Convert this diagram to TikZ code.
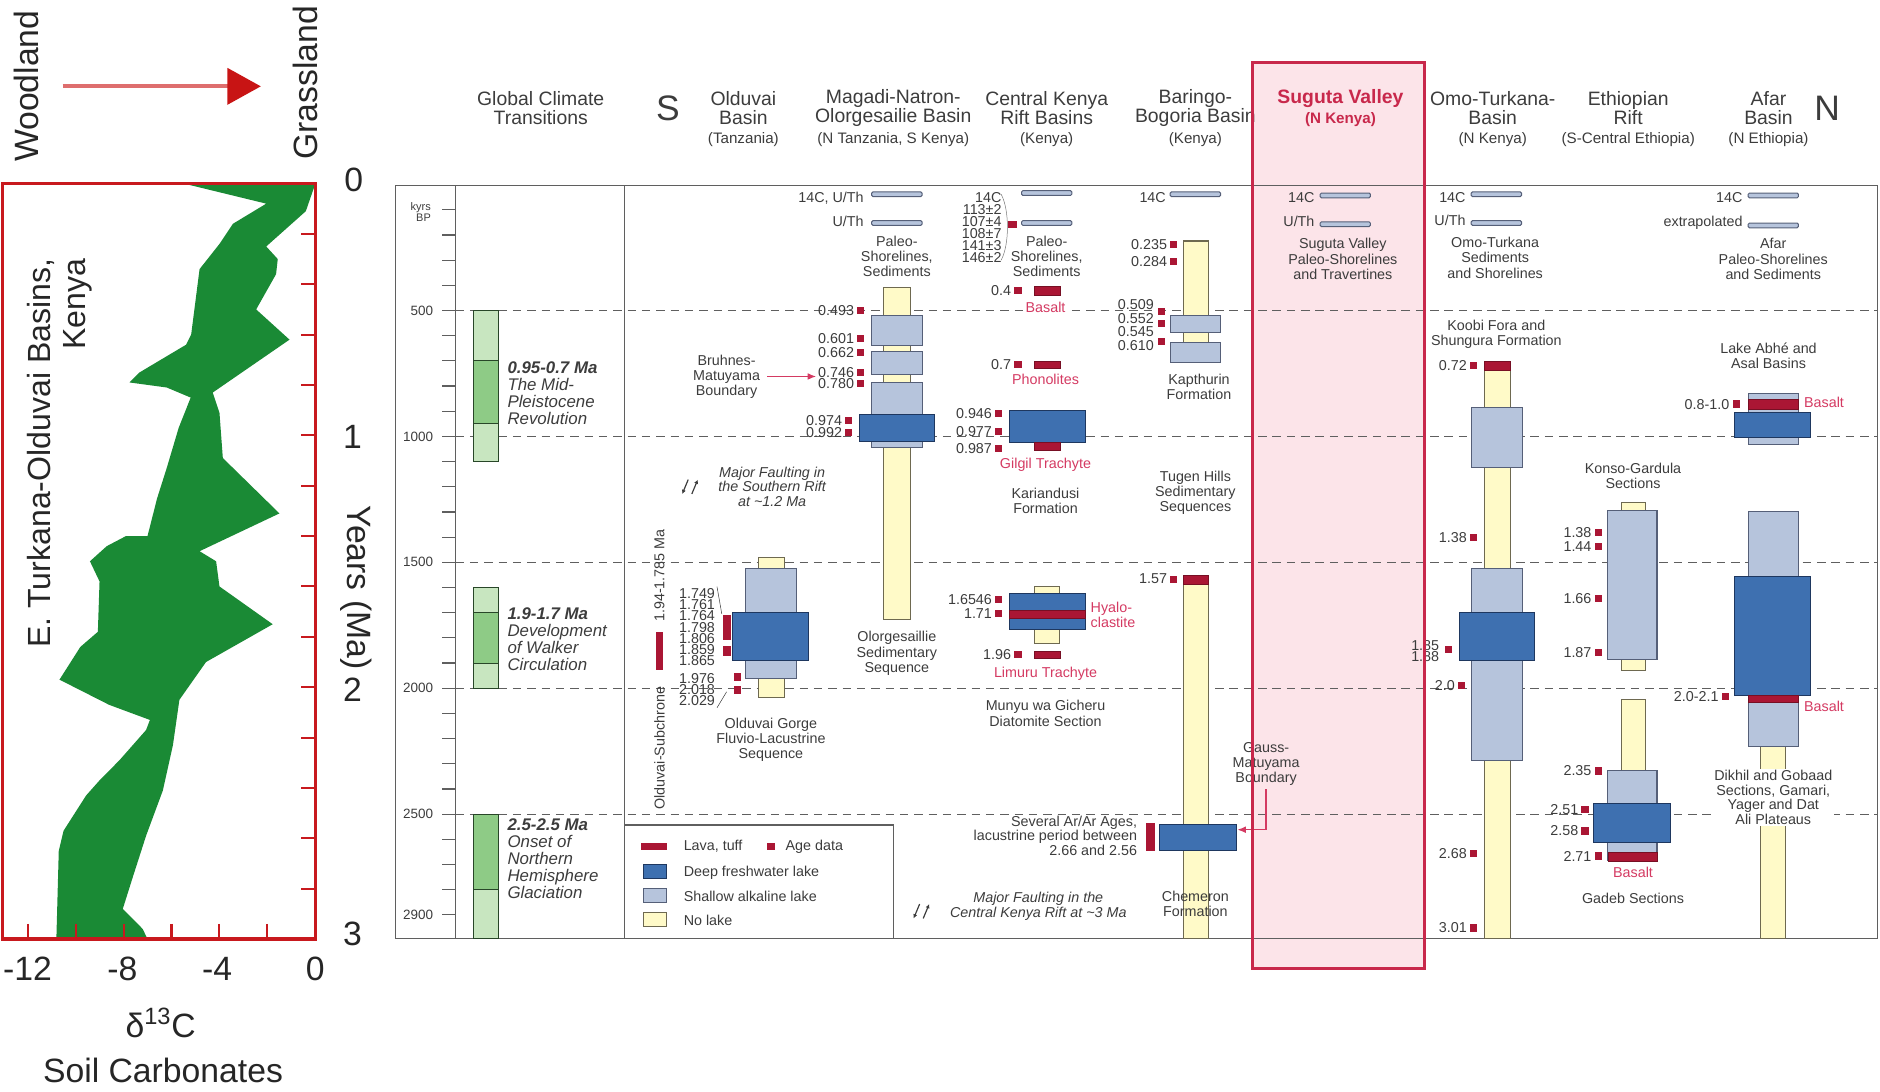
\documentclass[tikz,border=0pt]{standalone}
\usepackage{fontspec}
\setmainfont{Liberation Sans}
\usetikzlibrary{arrows.meta}

\definecolor{txtgray}{RGB}{60,60,60}
\definecolor{framegray}{RGB}{95,95,95}
\definecolor{lavared}{RGB}{170,22,52}
\definecolor{labred}{RGB}{212,58,98}
\definecolor{deepfill}{RGB}{62,112,176}
\definecolor{deepline}{RGB}{30,55,95}
\definecolor{shalfill}{RGB}{182,196,220}
\definecolor{shalline}{RGB}{85,95,120}
\definecolor{nolfill}{RGB}{255,250,200}
\definecolor{nolline}{RGB}{110,105,80}
\definecolor{climlight}{RGB}{200,230,192}
\definecolor{climdark}{RGB}{142,203,134}
\definecolor{climline}{RGB}{40,70,40}
\definecolor{sugfill}{RGB}{252,228,233}
\definecolor{sugline}{RGB}{200,40,75}
\definecolor{plotgreen}{RGB}{26,138,53}
\definecolor{plotred}{RGB}{200,25,30}
\definecolor{arrline}{RGB}{222,110,110}
\definecolor{arrhead}{RGB}{200,20,20}

\newcommand{\agesq}[4]{%
  \node[agelbl, anchor=east] (#1) at ({#2-1},#3) {#4};
  \fill[lavared] (#2,{#3-3}) rectangle ++(6,6);}
\newcommand{\lakebar}[2]{\draw[thinbar] (#1,{#2-2}) rectangle ++(42,4);}
\newcommand{\faultsym}[2]{%
  \draw[faultln] ({#1-1},{#2-6}) -- ({#1-6},{#2+6});
  \draw[faultln] ({#1+2},{#2+6}) -- ({#1+7},{#2-6});}

\begin{document}
\begin{tikzpicture}[x=0.025cm, y=-0.025cm,
    hd/.style={align=center, text=txtgray, font=\fontsize{11.5}{11.5}\selectfont, inner sep=0pt},
    hdsub/.style={text=txtgray, font=\fontsize{9}{9}\selectfont, inner sep=0pt},
    compass/.style={text=txtgray, font=\fontsize{21}{21}\selectfont, inner sep=0pt},
    lbl/.style={align=center, text=txtgray, font=\fontsize{8.5}{9}\selectfont, inner sep=1pt},
    redlbl/.style={lbl, text=labred},
    agelbl/.style={align=right, text=txtgray, font=\fontsize{8.5}{8.5}\selectfont, inner sep=1pt},
    faultlbl/.style={lbl, font=\fontsize{8.5}{8.7}\selectfont\itshape},
    faultln/.style={draw=txtgray, line width=0.7pt, -{Latex[length=2.5pt,width=2.5pt]}},
    climlbl/.style={align=left, anchor=west, text=txtgray, font=\fontsize{10}{10}\selectfont\itshape, inner sep=0pt},
    axlbl/.style={anchor=east, text=txtgray, font=\fontsize{8}{8}\selectfont, inner sep=1pt},
    legtxt/.style={anchor=west, text=txtgray, font=\fontsize{8.5}{8.5}\selectfont, inner sep=0pt},
    deep/.style={draw=deepline, fill=deepfill, line width=0.6pt},
    shallow/.style={draw=shalline, fill=shalfill, line width=0.6pt},
    nolake/.style={draw=nolline, fill=nolfill, line width=0.6pt},
    lavabox/.style={draw=lavared!70!black, fill=lavared, line width=0.4pt},
    thinbar/.style={draw=shalline, fill=shalfill, line width=0.6pt, rounded corners=0.8pt},
    clight/.style={draw=climline, fill=climlight, line width=0.6pt},
    cdark/.style={draw=climline, fill=climdark, line width=0.6pt},
    frame/.style={draw=framegray, line width=0.7pt},
    gridln/.style={draw=framegray, line width=0.6pt, dash pattern=on 5pt off 3.5pt},
    redarrow/.style={draw=labred, line width=0.8pt, -{Latex[length=5pt,width=4pt]}},
    ptick/.style={draw=plotred, line width=1.2pt},
    paneltxt/.style={text=black!85, font=\fontsize{20}{20}\selectfont, inner sep=0pt}]
\useasboundingbox (0,0) rectangle (1568,910);

% soil carbonate panel
\begin{scope}[xshift=6.575cm, yshift=-3.825cm, x=0.5cm, y=-5.25cm]
  \fill[plotgreen] (0,0) -- (-0.4,0.11) -- (-2.05,0.25) -- (-1.57,0.30) -- (-1.64,0.36)
    -- (-2.47,0.50) -- (-1.08,0.62) -- (-4.28,0.83) -- (-4.0,0.91) -- (-3.86,1.09)
    -- (-1.5,1.31) -- (-4.83,1.46) -- (-4.14,1.50) -- (-4.0,1.60) -- (-1.78,1.75)
    -- (-4.56,1.90) -- (-5.67,2.05) -- (-5.94,2.23) -- (-6.36,2.41) -- (-7.06,2.59)
    -- (-7.6,2.75) -- (-8.03,2.88) -- (-7.2,2.96) -- (-7.0,3.0)
    -- (-10.8,3.0) -- (-10.7,2.65) -- (-10.5,2.57) -- (-9.56,2.43) -- (-9.0,2.37)
    -- (-8.17,2.29) -- (-7.06,2.17) -- (-6.9,2.13) -- (-8.6,2.07) -- (-10.67,1.97)
    -- (-9.8,1.84) -- (-9.07,1.78) -- (-9.0,1.58) -- (-9.4,1.50) -- (-8.7,1.44)
    -- (-7.9,1.40) -- (-7.0,1.40) -- (-6.6,1.25) -- (-6.2,1.13) -- (-5.7,0.97)
    -- (-5.2,0.85) -- (-6.2,0.81) -- (-7.75,0.79) -- (-7.33,0.75) -- (-5.39,0.64)
    -- (-5.18,0.60) -- (-4.83,0.34) -- (-4.0,0.24) -- (-3.44,0.16) -- (-2.05,0.08)
    -- (-5.5,0.0) -- cycle;
  \foreach \k in {1,...,14} \draw[ptick] (-0.6,{0.2*\k}) -- (0,{0.2*\k});
  \foreach \k in {1,...,6} \draw[ptick] ({-2*\k},2.94) -- ({-2*\k},3);
  \draw[plotred, line width=2pt] (-13.05,0) rectangle (0,3);
\end{scope}

\node[paneltxt, rotate=90] (wood) at (22,72) {Woodland};
\node[paneltxt, rotate=90] (grass) at (255,69) {Grassland};
\draw[arrline, line width=2.5pt, shorten <=0.49cm, shorten >=0.67cm,
  -{Triangle[length=0.7cm, width=0.75cm, color=arrhead]}] (wood.south) -- (wood.south -| grass.north);
\node[paneltxt, rotate=90, align=right, font=\fontsize{19}{21}\selectfont] (basin) at (50,378) {E. Turkana-Olduvai Basins,\\Kenya};
\node[paneltxt] (ma0) at (295,150) {0};
\node[paneltxt] (ma1) at (294,364) {1};
\node[paneltxt] (ma2) at (294,575) {2};
\node[paneltxt] (ma3) at (294,779) {3};
\node[paneltxt, rotate=-90] (years) at (297,490) {Years (Ma)};
\node[paneltxt] (dm12) at (23,808) {-12};
\node[paneltxt] (dm8) at (102,808) {-8};
\node[paneltxt] (dm4) at (181,808) {-4};
\node[paneltxt] (dm0) at (263,808) {0};
\node[paneltxt] (delta) at (134,853) {δ\textsuperscript{13}C};
\node[paneltxt] (soil) at (136,893) {Soil Carbonates};

% rift basin chart
\fill[sugfill] (1045,52) rectangle (1188,808);
\draw[frame] (330,155) rectangle (1566,783);
\draw[frame] (380,155) -- (380,783);
\draw[frame] (521,155) -- (521,783);
\foreach \k in {1,...,29} \draw[frame] (369,{154+21*\k}) -- (380,{154+21*\k});
\foreach \v/\k in {500/5,1000/10,1500/15,2000/20,2500/25,2900/29}
  \node[axlbl] (ax\v) at (363,{154+21*\k}) {\v};
\node[axlbl, align=right, font=\fontsize{6.5}{6.5}\selectfont] (kbp) at (361,177) {kyrs\\BP};
\foreach \k in {5,10,15,20,25} \draw[gridln] (380,{154+21*\k}) -- (1566,{154+21*\k});

% headers
\node[hd] (hGlob) at (451,90) {Global Climate\\Transitions};
\node[compass] (hS) at (557,90) {S};
\node[hd] (hOld) at (620,90) {Olduvai\\Basin};
\node[hdsub] (hOldR) at (620,116) {(Tanzania)};
\node[hd] (hMag) at (745,90) {Magadi-Natron-\\Olorgesailie Basin};
\node[hdsub] (hMagR) at (745,116) {(N Tanzania, S Kenya)};
\node[hd] (hCK) at (873,90) {Central Kenya\\Rift Basins};
\node[hdsub] (hCKR) at (873,116) {(Kenya)};
\node[hd] (hBar) at (997,90) {Baringo-\\Bogoria Basin};
\node[hdsub] (hBarR) at (997,116) {(Kenya)};
\node[hd, text=sugline, font=\fontsize{11.5}{11.5}\selectfont\bfseries] (hSug) at (1118,82) {Suguta Valley};
\node[hdsub, text=sugline, font=\fontsize{9}{9}\selectfont\bfseries] (hSugR) at (1118,100) {(N Kenya)};
\node[hd] (hOmo) at (1245,90) {Omo-Turkana-\\Basin};
\node[hdsub] (hOmoR) at (1245,116) {(N Kenya)};
\node[hd] (hEth) at (1358,90) {Ethiopian\\Rift};
\node[hdsub] (hEthR) at (1358,116) {(S-Central Ethiopia)};
\node[hd] (hAfar) at (1475,90) {Afar\\Basin};
\node[hdsub] (hAfarR) at (1475,116) {(N Ethiopia)};
\node[compass] (hN) at (1524,90) {N};

% global climate transitions
\draw[clight] (395,259) rectangle (416,385);
\draw[cdark] (395,301) rectangle (416,353);
\draw[clight] (395,490) rectangle (416,574);
\draw[cdark] (395,511) rectangle (416,553);
\draw[cdark] (395,679) rectangle (416,742);
\draw[clight] (395,742) rectangle (416,783);
\node[climlbl] (mpr) at (423,328) {\textbf{0.95-0.7 Ma}\\The Mid-\\Pleistocene\\Revolution};
\node[climlbl] (walker) at (423,533) {\textbf{1.9-1.7 Ma}\\Development\\of Walker\\Circulation};
\node[climlbl] (nhg) at (423,716) {\textbf{2.5-2.5 Ma}\\Onset of\\Northern\\Hemisphere\\Glaciation};

% Olduvai
\draw[nolake] (633,465) rectangle (654,474);
\draw[nolake] (633,565) rectangle (654,582);
\draw[shallow] (622,474) rectangle (664,566);
\draw[deep] (611,511) rectangle (674,551);
\node[agelbl, anchor=east, font=\fontsize{8.5}{6.6}\selectfont] (oldA) at (598,523) {1.749\\1.761\\1.764\\1.798\\1.806\\1.859\\1.865};
\node[agelbl, anchor=east, font=\fontsize{8.5}{6.7}\selectfont] (oldB) at (598,575) {1.976\\2.018\\2.029};
\fill[lavared] (603,513) rectangle (610,534);
\fill[lavared] (603,539) rectangle (610,547);
\fill[lavared] (612,561) rectangle (618,568);
\fill[lavared] (612,572) rectangle (618,579);
\draw[txtgray, line width=0.3pt] (oldA.north east) -- (602,512);
\draw[txtgray, line width=0.3pt] (oldB.south east) -- (606,577);
\fill[lavared] (547,527) rectangle (553,559);
\node[lbl, rotate=90] (subAge) at (550,480) {1.94-1.785 Ma};
\node[lbl, rotate=90] (subName) at (550,624) {Olduvai-Subchrone};
\node[lbl] (oldSeq) at (643,617) {Olduvai Gorge\\Fluvio-Lacustrine\\Sequence};
\faultsym{575}{406}
\node[faultlbl] (faultS) at (644,406) {Major Faulting in\\the Southern Rift\\at \textasciitilde1.2 Ma};

% Magadi-Natron-Olorgesailie
\node[agelbl, anchor=east] (m14) at (722,165) {14C, U/Th};
\lakebar{727}{162}
\node[agelbl, anchor=east] (mUTh) at (722,185) {U/Th};
\lakebar{727}{186}
\node[lbl] (mPal) at (748,214) {Paleo-\\Shorelines,\\Sediments};
\draw[nolake] (737,240) rectangle (759,517);
\draw[shallow] (727,263) rectangle (769,288);
\draw[shallow] (727,293) rectangle (769,312);
\draw[shallow] (727,319) rectangle (769,373);
\draw[deep] (717,346) rectangle (779,368);
\agesq{a0493}{715}{259}{0.493}
\agesq{a0601}{715}{282}{0.601}
\agesq{a0662}{715}{294}{0.662}
\agesq{a0746}{715}{311}{0.746}
\agesq{a0780}{715}{320}{0.780}
\agesq{a0974}{705}{351}{0.974}
\agesq{a0992}{705}{361}{0.992}
\node[lbl] (mOlor) at (748,545) {Olorgesaillie\\Sedimentary\\Sequence};
\node[lbl] (bm) at (606,314) {Bruhnes-\\Matuyama\\Boundary};
\draw[redarrow, shorten <=3pt] (bm.east) -- (bm.east -| a0746.west);

% Central Kenya
\node[agelbl, anchor=east, font=\fontsize{8.5}{7.1}\selectfont] (ckAges) at (837,190) {14C\\113±2\\107±4\\108±7\\141±3\\146±2};
\draw[txtgray!70, line width=0.3pt] (835,162) .. controls (842,175) and (842,204) .. (835,217);
\fill[lavared] (841,184) rectangle (848,190);
\lakebar{852}{161}
\lakebar{852}{186}
\node[lbl] (ckPal) at (873,214) {Paleo-\\Shorelines,\\Sediments};
\agesq{a04}{846}{242}{0.4}
\draw[lavabox] (863,239) rectangle (884,246);
\node[redlbl, fill=white] (ckBas) at (872,256) {Basalt};
\agesq{a07}{846}{304}{0.7}
\draw[lavabox] (863,301) rectangle (884,307);
\node[redlbl] (ckPho) at (872,316) {Phonolites};
\draw[deep] (842,342) rectangle (905,369);
\draw[lavabox] (863,369) rectangle (884,376);
\agesq{a0946}{830}{345}{0.946}
\agesq{a0977}{830}{360}{0.977}
\agesq{a0987}{830}{374}{0.987}
\node[redlbl] (ckGil) at (872,388) {Gilgil Trachyte};
\node[lbl] (ckKar) at (872,418) {Kariandusi\\Formation};
\draw[nolake] (863,489) rectangle (884,537);
\draw[deep] (842,495) rectangle (905,525);
\draw[lavabox] (842,509) rectangle (905,516);
\agesq{a16546}{830}{500}{1.6546}
\agesq{a171}{830}{512}{1.71}
\node[redlbl, anchor=west, align=left] (ckHya) at (908,513) {Hyalo-\\clastite};
\agesq{a196}{846}{546}{1.96}
\draw[lavabox] (863,543) rectangle (884,549);
\node[redlbl] (ckLim) at (872,562) {Limuru Trachyte};
\node[lbl] (ckMun) at (872,595) {Munyu wa Gicheru\\Diatomite Section};
\faultsym{768}{760}
\node[faultlbl] (faultC) at (866,756) {Major Faulting in the\\Central Kenya Rift at \textasciitilde3 Ma};

% Baringo-Bogoria
\node[agelbl, anchor=east] (b14) at (974,165) {14C};
\lakebar{976}{162}
\draw[nolake] (987,201) rectangle (1008,301);
\draw[shallow] (976,263) rectangle (1018,277);
\draw[shallow] (976,286) rectangle (1018,302);
\agesq{a0235}{976}{204}{0.235}
\agesq{a0284}{976}{218}{0.284}
\node[agelbl, anchor=east, font=\fontsize{8.5}{8}\selectfont] (bAges) at (964,271) {0.509\\0.552\\0.545\\0.610};
\fill[lavared] (966,257) rectangle (972,263);
\fill[lavared] (966,267) rectangle (972,273);
\fill[lavared] (966,282) rectangle (972,288);
\node[lbl] (bKap) at (1000,323) {Kapthurin\\Formation};
\node[lbl] (bTug) at (997,411) {Tugen Hills\\Sedimentary\\Sequences};
\draw[nolake] (987,480) rectangle (1008,783);
\draw[lavabox] (987,480) rectangle (1008,487);
\agesq{a157}{976}{483}{1.57}
\draw[deep] (967,688) rectangle (1031,709);
\fill[lavared] (956,686) rectangle (963,710);
\node[agelbl, anchor=east, font=\fontsize{8.5}{8.6}\selectfont] (bArAr) at (950,697) {Several Ar/Ar Ages,\\lacustrine period between\\2.66 and 2.56};
\node[lbl] (bChem) at (997,754) {Chemeron\\Formation};
\node[lbl] (gm) at (1056,637) {Gauss-\\Matuyama\\Boundary};
\coordinate (chemE) at (1032,692);
\draw[redarrow, shorten <=1pt] (gm.south) |- (chemE);

% Suguta Valley
\node[agelbl, anchor=east] (s14) at (1098,165) {14C};
\lakebar{1101}{163}
\node[agelbl, anchor=east] (sUTh) at (1098,185) {U/Th};
\lakebar{1101}{187}
\node[lbl] (sPal) at (1120,216) {Suguta Valley\\Paleo-Shorelines\\and Travertines};

% Omo-Turkana
\node[agelbl, anchor=east] (o14) at (1224,165) {14C};
\lakebar{1227}{162}
\node[agelbl, anchor=east] (oUTh) at (1224,184) {U/Th};
\lakebar{1227}{186}
\node[lbl] (oPal) at (1247,215) {Omo-Turkana\\Sediments\\and Shorelines};
\node[lbl] (oKoo) at (1248,279) {Koobi Fora and\\Shungura Formation};
\draw[nolake] (1238,302) rectangle (1260,783);
\draw[lavabox] (1238,301) rectangle (1260,309);
\draw[shallow] (1227,340) rectangle (1270,390);
\draw[shallow] (1227,474) rectangle (1270,634);
\draw[deep] (1217,511) rectangle (1280,551);
\agesq{a072}{1226}{305}{0.72}
\agesq{a138o}{1226}{448}{1.38}
\node[agelbl, anchor=east, font=\fontsize{8.5}{7}\selectfont] (o185) at (1202,543) {1.85\\1.88};
\fill[lavared] (1205,539) rectangle (1211,545);
\agesq{a20o}{1216}{572}{2.0}
\agesq{a268}{1226}{712}{2.68}
\agesq{a301}{1226}{774}{3.01}

% Ethiopian Rift
\node[lbl] (eKon) at (1362,397) {Konso-Gardula\\Sections};
\draw[nolake] (1352,419) rectangle (1372,559);
\draw[shallow] (1341,426) rectangle (1382,550);
\agesq{a138e}{1330}{444}{1.38}
\agesq{a144e}{1330}{456}{1.44}
\agesq{a166e}{1330}{499}{1.66}
\agesq{a187e}{1330}{544}{1.87}
\draw[nolake] (1352,583) rectangle (1372,645);
\draw[shallow] (1341,643) rectangle (1382,718);
\draw[deep] (1329,670) rectangle (1393,703);
\draw[lavabox] (1341,711) rectangle (1382,718);
\agesq{a235e}{1330}{643}{2.35}
\agesq{a251e}{1319}{675}{2.51}
\agesq{a258e}{1319}{693}{2.58}
\agesq{a271e}{1330}{714}{2.71}
\node[redlbl] (eBas) at (1362,728) {Basalt};
\node[lbl] (eGad) at (1362,749) {Gadeb Sections};

% Afar
\node[agelbl, anchor=east] (f14) at (1455,165) {14C};
\lakebar{1458}{163}
\node[agelbl, anchor=east] (fExt) at (1455,186) {extrapolated};
\lakebar{1458}{188}
\node[lbl] (fPal) at (1479,216) {Afar\\Paleo-Shorelines\\and Sediments};
\node[lbl] (fAbh) at (1475,297) {Lake Abhé and\\Asal Basins};
\draw[shallow] (1458,328) rectangle (1500,371);
\draw[lavabox] (1458,333) rectangle (1500,341);
\draw[deep] (1447,344) rectangle (1510,365);
\agesq{a0810}{1445}{337}{0.8-1.0}
\node[redlbl, anchor=west] (fBas1) at (1503,336) {Basalt};
\draw[nolake] (1468,623) rectangle (1489,783);
\draw[shallow] (1458,427) rectangle (1500,623);
\draw[deep] (1447,481) rectangle (1510,580);
\draw[lavabox] (1458,580) rectangle (1500,586);
\agesq{a2021}{1436}{581}{2.0-2.1}
\node[redlbl, anchor=west] (fBas2) at (1503,589) {Basalt};
\node[lbl, fill=white, font=\fontsize{8.5}{8.6}\selectfont] (fDik) at (1479,665) {Dikhil and Gobaad\\Sections, Gamari,\\Yager and Dat\\Ali Plateaus};

% legend
\draw[frame] (521,688) -- (745,688) -- (745,783);
\fill[lavared] (535,703) rectangle (556,709);
\node[legtxt] (lgLava) at (570,706) {Lava, tuff};
\fill[lavared] (640,703) rectangle (646,709);
\node[legtxt] (lgAge) at (655,706) {Age data};
\draw[deep] (537,721) rectangle (556,733);
\node[legtxt] (lgDeep) at (570,728) {Deep freshwater lake};
\draw[shallow] (537,741) rectangle (556,753);
\node[legtxt] (lgShal) at (570,748) {Shallow alkaline lake};
\draw[nolake] (537,761) rectangle (556,773);
\node[legtxt] (lgNo) at (570,768) {No lake};

\draw[sugline, line width=1.8pt] (1045,52) rectangle (1188,808);
\end{tikzpicture}
\end{document}
